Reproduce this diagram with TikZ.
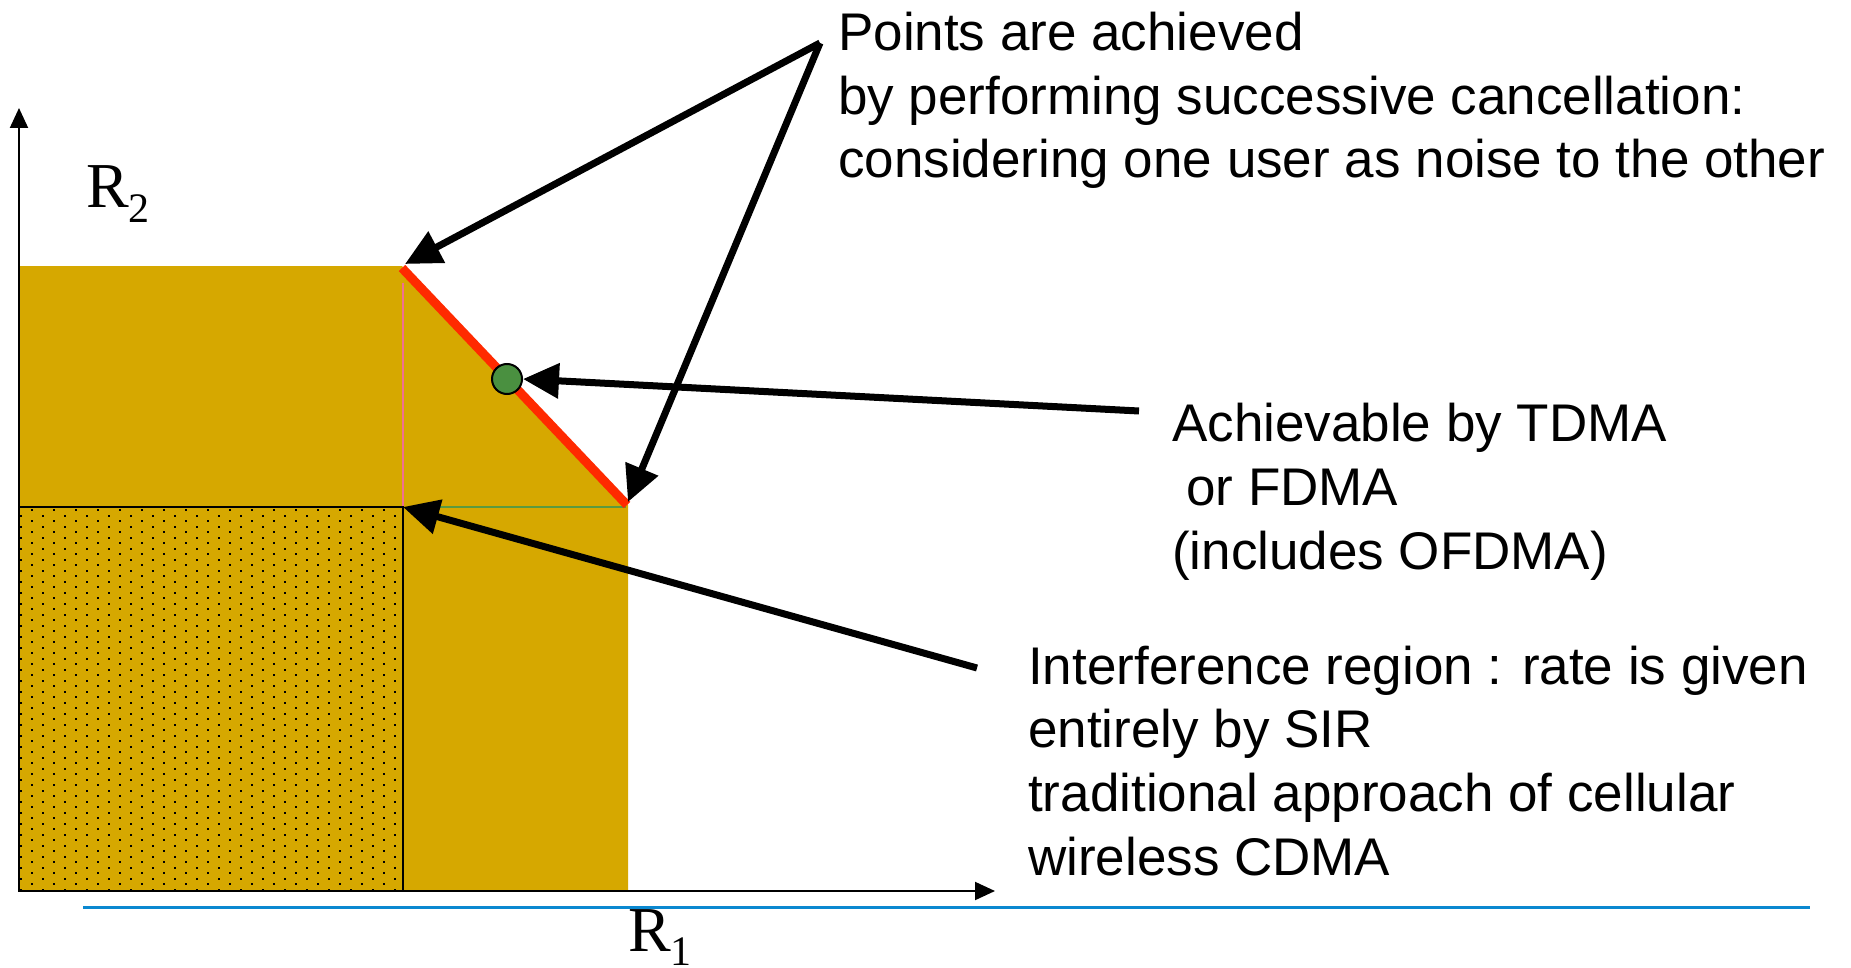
\documentclass[tikz,border=0pt]{standalone}
\usepackage{fontspec}
\setmainfont{Liberation Sans}
\newfontfamily\axisfont{Liberation Serif}
\usetikzlibrary{arrows.meta}
\definecolor{regiongold}{HTML}{D6A800}
\definecolor{boundred}{HTML}{FF2A00}
\definecolor{dotgreen}{HTML}{4A9040}
\definecolor{baseblue}{HTML}{0A88D0}
\definecolor{edgepink}{HTML}{F07090}
\definecolor{edgegreen}{HTML}{5A9A40}
\tikzset{
  label text/.style={anchor=base west, inner sep=0pt, font=\fontsize{53}{63.5}\selectfont},
  pointer/.style={line width=7pt, -{Triangle[length=36pt,width=34pt]}},
  axis/.style={line width=2pt, -{Triangle[length=20pt,width=18pt]}},
}
\begin{document}
\begin{tikzpicture}[x=1pt,y=-1pt]
\useasboundingbox (0,0) rectangle (1851,968);

% corner points of the rate region
\coordinate (O) at (19,891);
\coordinate (A) at (402,266);
\coordinate (B) at (628,505);
\coordinate (C) at (403,507);
\coordinate (Ytop) at (19,108);
\coordinate (Xend) at (995,891);

% shaded capacity region
\fill[regiongold] (19,266) -- (A) -- (B) -- (628,891) -- (O) -- cycle;

% thin inner edges
\draw[edgepink, line width=1.5pt] (403,283) -- (403,507);
\draw[edgegreen, line width=1.5pt] (440,507) -- (626,507);

% dotted interference box (staggered dot grid)
\foreach \i in {0,...,69} {
  \pgfmathsetmacro{\yy}{509+\i*5.5}
  \pgfmathsetmacro{\xs}{31-mod(\i,2)*11}
  \foreach \j in {0,...,17} {
    \pgfmathsetmacro{\xx}{\xs+\j*22}
    \ifdim\xx pt<399pt
      \fill[black] (\xx,\yy) rectangle ++(2.2,2.2);
    \fi
  }
}
\draw[black, line width=2pt] (19,507) rectangle (403,891);

% boundary segment achieved by successive cancellation
\draw[boundred, line width=9pt] (402,268) -- (627,505);

% axes
\draw[axis] (O) -- (Ytop);
\draw[axis] (O) -- (Xend);
\draw[baseblue, line width=3pt] (83,907) -- (1810,907);

\node[anchor=base west, inner sep=0pt, font=\axisfont\fontsize{64}{64}\selectfont] (R2) at (86,208)
  {R\raisebox{-15pt}{\fontsize{42}{42}\selectfont 2}};
\node[anchor=base west, inner sep=0pt, font=\axisfont\fontsize{64}{64}\selectfont] (R1) at (628,951)
  {R\raisebox{-14pt}{\fontsize{42}{42}\selectfont 1}};

% time-sharing point
\node[circle, fill=dotgreen, draw=black, line width=2pt, minimum size=30pt, inner sep=0pt] (P) at (507,379) {};

% annotations
\node[label text] (t1a) at (838,51) {Points are achieved};
\node[label text] (t1b) at (838,115) {by performing successive cancellation:};
\node[label text] (t1c) at (838,178) {considering one user as noise to the other};

\node[label text] (t2a) at (1172,441) {Achievable by TDMA};
\node[label text] (t2b) at (1186,505) {or FDMA};
\node[label text] (t2c) at (1172,569) {(includes OFDMA)};

\node[label text] (t3a) at (1028,684) {Interference region : rate is given};
\node[label text] (t3b) at (1028,747) {entirely by SIR};
\node[label text] (t3c) at (1028,811) {traditional approach of cellular};
\node[label text] (t3d) at (1028,875) {wireless CDMA};

% pointer arrows
\coordinate (S1) at (820,43);
\coordinate (S3) at (1139,411);
\coordinate (S4) at (977,668);
\coordinate (TA) at (405,264);
\coordinate (TB) at (628,502);
\draw[pointer] (S1) -- (TA);
\draw[pointer] (S1) -- (TB);
\draw[pointer] (S3) -- (P.east);
\draw[pointer] (S4) -- (C);
\end{tikzpicture}
\end{document}
